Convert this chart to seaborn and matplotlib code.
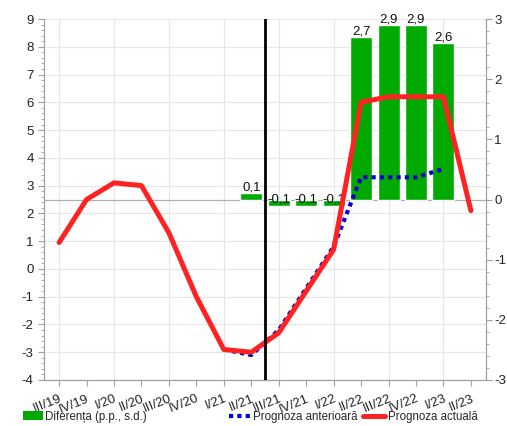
import matplotlib
matplotlib.use('Agg')
import matplotlib.pyplot as plt
from matplotlib.lines import Line2D
from matplotlib.patches import Patch
from matplotlib.ticker import MultipleLocator
import numpy as np
import pandas as pd
import seaborn as sns

quarters = ['III/19', 'IV/19', 'I/20', 'II/20', 'III/20', 'IV/20', 'I/21', 'II/21',
            'III/21', 'IV/21', 'I/22', 'II/22', 'III/22', 'IV/22', 'I/23', 'II/23']
current_forecast = [0.95, 2.5, 3.1, 3.0, 1.3, -1.0, -2.9, -3.0,
                    -2.3, -0.8, 0.7, 6.0, 6.2, 6.2, 6.2, 2.1]
previous_forecast = [np.nan, np.nan, np.nan, np.nan, np.nan, np.nan, -2.9, -3.1,
                     -2.2, -0.7, 0.8, 3.3, 3.3, 3.3, 3.6, np.nan]
difference = [np.nan, np.nan, np.nan, np.nan, np.nan, np.nan, np.nan, 0.1,
              -0.1, -0.1, -0.1, 2.7, 2.9, 2.9, 2.6, np.nan]

GREEN = '#00aa00'
RED = '#ff2222'
BLUE = '#0000cc'
GRID = '#e6e6e6'
SPINE = '#a0a0a0'

df = pd.DataFrame({'quarter': quarters, 'pos': np.arange(len(quarters)),
                   'current': current_forecast, 'previous': previous_forecast,
                   'diff': difference})

sns.set_style('white')
plt.rcParams['font.family'] = ['Liberation Sans', 'DejaVu Sans']
plt.rcParams['axes.unicode_minus'] = False

fig = plt.figure(figsize=(5.07, 4.26), dpi=100)
ax = fig.add_axes([44 / 507, 1 - 380 / 426, (486 - 44) / 507, (380 - 19) / 426])
ax2 = ax.twinx()   # bars, right scale
ax3 = ax.twinx()   # lines, left scale

# left axis: grid + ticks
ax.set_ylim(-4, 9)
ax.yaxis.set_major_locator(MultipleLocator(1))
ax.yaxis.set_minor_locator(MultipleLocator(0.2))
ax.grid(axis='y', color=GRID, lw=0.8)
for i in range(0, len(quarters), 2):
    ax.axvline(i, color=GRID, lw=0.8, zorder=0)

# bars
sub = df.dropna(subset=['diff'])
sns.barplot(data=df, x='quarter', y='diff', order=quarters, color=GREEN,
            width=0.8, errorbar=None, saturation=1, ax=ax2)
ax2.axhline(0, color='#b0b0b0', lw=0.9, zorder=0.5)
for _, r in sub.iterrows():
    ax2.text(r['pos'], r['diff'], f"{r['diff']:.1f}".replace('.', ','),
             ha='center', va='bottom', fontsize=9.5, color='#111111')
ax2.set_ylim(-3, 3)
ax2.yaxis.set_major_locator(MultipleLocator(1))
ax2.yaxis.set_minor_locator(MultipleLocator(0.2))
ax2.set_ylabel('')
ax2.set_xlabel('')

# lines
sns.lineplot(data=df, x='pos', y='previous', color=BLUE, lw=3,
             linestyle=(0, (1, 1)), ax=ax3)
sns.lineplot(data=df, x='pos', y='current', color=RED, lw=3.6, ax=ax3)
ax3.axvline(7.5, color='black', lw=2, zorder=5)
ax3.set_ylim(-4, 9)
ax3.set_yticks([])
ax3.set_ylabel('')
ax3.set_xlabel('')

ax.set_xlim(-0.55, 15.55)
ax.set_xticks(np.arange(len(quarters)))
ax.set_xticklabels(quarters, rotation=22, ha='right', rotation_mode='anchor')
ax.set_xlabel('')

for a in (ax, ax2, ax3):
    a.spines['top'].set_visible(False)
    for s in ('left', 'right', 'bottom'):
        a.spines[s].set_color(SPINE)
        a.spines[s].set_linewidth(0.8)
for s in ax3.spines.values():
    s.set_visible(False)

ax.tick_params(axis='both', which='major', length=4, color=SPINE, labelsize=9.5,
               labelcolor='#222222', left=True, bottom=True)
ax.tick_params(axis='y', which='minor', length=2, color=SPINE, left=True)
ax.tick_params(axis='x', pad=5)
ax2.tick_params(axis='y', which='major', length=4, color=SPINE, labelsize=9.5,
                labelcolor='#222222', right=True, pad=2)
ax2.tick_params(axis='y', which='minor', length=2, color=SPINE, right=True)

h_bar = [Patch(facecolor=GREEN, edgecolor='none')]
fig.legend(h_bar, ['Diferența (p.p., s.d.)'], loc='center left',
           bbox_to_anchor=(23 / 507, 0.022), frameon=False, fontsize=8.3,
           handlelength=1.75, handleheight=0.8, handletextpad=0.2,
           borderpad=0, borderaxespad=0)
h_lines = [Line2D([], [], color=BLUE, lw=3, linestyle=(0, (1, 1))),
           Line2D([], [], color=RED, lw=3.6)]
fig.legend(h_lines, ['Prognoza anterioară', 'Prognoza actuală'], loc='center left',
           bbox_to_anchor=(229 / 507, 0.022), ncol=2, frameon=False, fontsize=8.3,
           handlelength=1.9, handletextpad=0.2, columnspacing=0.5,
           borderpad=0, borderaxespad=0)

fig.savefig('out.png', dpi=100)
